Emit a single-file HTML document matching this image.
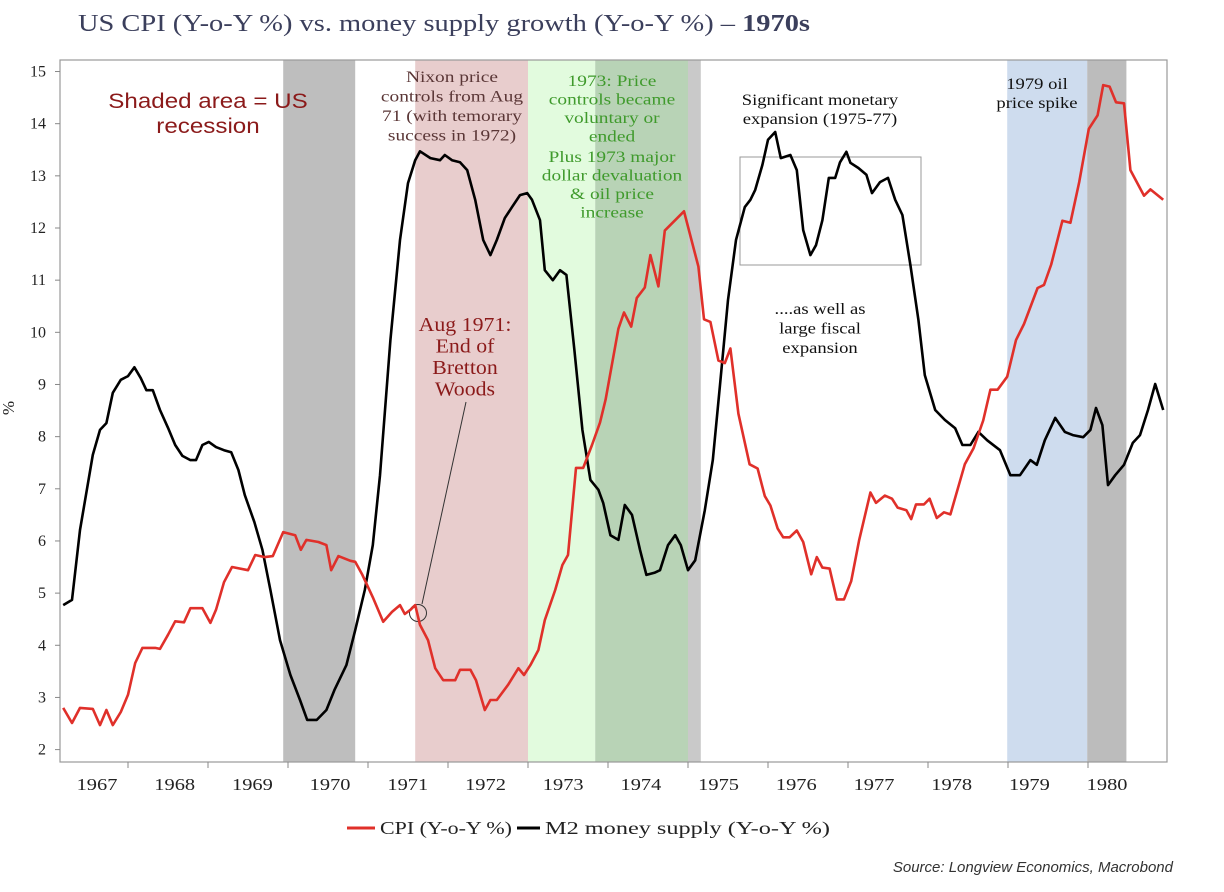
<!DOCTYPE html>
<html><head><meta charset="utf-8"><style>
html,body{margin:0;padding:0;background:#fff;}
svg{display:block;}
</style></head><body>
<svg id="chart" width="1224" height="892" viewBox="0 0 1224 892" xmlns="http://www.w3.org/2000/svg">
<text x="78" y="31" textLength="732" lengthAdjust="spacingAndGlyphs" font-family="Liberation Serif, serif" font-size="24" fill="#3b3f5c">US CPI (Y-o-Y %) vs. money supply growth (Y-o-Y %) – <tspan font-weight="bold">1970s</tspan></text>
<g id="bands"></g>
<g id="annot"></g>
<g id="series"></g>
<g id="axes"></g>
<text transform="translate(14,408) rotate(-90)" text-anchor="middle" font-family="Liberation Serif, serif" font-size="17" fill="#222">%</text>
<g>
<line x1="347" y1="828" x2="375" y2="828" stroke="#e0302a" stroke-width="3"/>
<text x="380" y="834" textLength="132" lengthAdjust="spacingAndGlyphs" font-family="Liberation Serif, serif" font-size="18" fill="#222">CPI (Y-o-Y %)</text>
<line x1="517" y1="828" x2="540" y2="828" stroke="#000" stroke-width="3"/>
<text x="545" y="834" textLength="285" lengthAdjust="spacingAndGlyphs" font-family="Liberation Serif, serif" font-size="18" fill="#222">M2 money supply (Y-o-Y %)</text>
</g>
<text x="1173" y="872" text-anchor="end" font-family="Liberation Sans, sans-serif" font-style="italic" font-size="15" fill="#333">Source: Longview Economics, Macrobond</text>
</svg>
<script>
const yTicks=[2,3,4,5,6,7,8,9,10,11,12,13,14,15];
const yearLabels=[1967,1968,1969,1970,1971,1972,1973,1974,1975,1976,1977,1978,1979,1980];
const m2Dates=[1967.19,1967.30,1967.40,1967.56,1967.65,1967.73,1967.81,1967.91,1968.00,1968.08,1968.16,1968.23,1968.31,1968.40,1968.50,1968.59,1968.68,1968.78,1968.85,1968.93,1969.01,1969.10,1969.20,1969.29,1969.38,1969.46,1969.58,1969.68,1969.78,1969.90,1970.03,1970.15,1970.24,1970.36,1970.48,1970.58,1970.73,1970.84,1970.96,1971.06,1971.15,1971.28,1971.40,1971.50,1971.59,1971.65,1971.78,1971.90,1971.96,1972.05,1972.15,1972.24,1972.34,1972.44,1972.53,1972.61,1972.71,1972.80,1972.90,1972.99,1973.05,1973.15,1973.21,1973.31,1973.40,1973.48,1973.58,1973.68,1973.78,1973.88,1973.94,1974.03,1974.13,1974.21,1974.30,1974.40,1974.48,1974.58,1974.65,1974.75,1974.84,1974.91,1975.00,1975.09,1975.21,1975.31,1975.40,1975.50,1975.60,1975.71,1975.78,1975.84,1975.93,1976.00,1976.09,1976.16,1976.28,1976.36,1976.44,1976.53,1976.60,1976.68,1976.76,1976.84,1976.90,1976.98,1977.03,1977.13,1977.23,1977.30,1977.40,1977.50,1977.59,1977.68,1977.78,1977.88,1977.96,1978.09,1978.21,1978.34,1978.43,1978.53,1978.63,1978.74,1978.90,1979.03,1979.15,1979.28,1979.36,1979.46,1979.59,1979.71,1979.81,1979.94,1980.03,1980.10,1980.18,1980.25,1980.34,1980.45,1980.56,1980.65,1980.75,1980.84,1980.94];
const m2Values=[4.77,4.87,6.21,7.65,8.13,8.26,8.84,9.09,9.16,9.33,9.12,8.89,8.89,8.51,8.17,7.84,7.63,7.55,7.55,7.84,7.90,7.80,7.74,7.70,7.36,6.88,6.36,5.83,5.06,4.10,3.43,2.95,2.57,2.57,2.76,3.14,3.62,4.29,5.06,5.92,7.26,9.85,11.77,12.86,13.30,13.47,13.34,13.30,13.40,13.30,13.26,13.11,12.54,11.77,11.48,11.77,12.19,12.40,12.63,12.67,12.54,12.15,11.19,11.00,11.19,11.10,9.66,8.13,7.17,6.98,6.73,6.11,6.02,6.69,6.50,5.83,5.35,5.39,5.44,5.92,6.11,5.92,5.44,5.63,6.59,7.55,8.99,10.62,11.77,12.40,12.54,12.73,13.21,13.69,13.84,13.34,13.40,13.11,11.96,11.48,11.67,12.15,12.96,12.96,13.26,13.46,13.25,13.15,13.02,12.67,12.88,12.96,12.54,12.25,11.29,10.24,9.18,8.51,8.32,8.16,7.84,7.84,8.09,7.93,7.74,7.26,7.26,7.55,7.46,7.93,8.36,8.09,8.03,7.99,8.13,8.55,8.22,7.07,7.26,7.46,7.88,8.03,8.51,9.01,8.51];
const cpiDates=[1967.19,1967.30,1967.40,1967.56,1967.65,1967.73,1967.81,1967.91,1968.00,1968.09,1968.18,1968.34,1968.40,1968.50,1968.59,1968.70,1968.78,1968.93,1969.03,1969.10,1969.20,1969.30,1969.50,1969.59,1969.71,1969.81,1969.94,1970.09,1970.16,1970.23,1970.38,1970.48,1970.54,1970.63,1970.78,1970.84,1970.93,1971.06,1971.19,1971.30,1971.40,1971.46,1971.53,1971.59,1971.65,1971.75,1971.84,1971.94,1972.09,1972.15,1972.28,1972.35,1972.46,1972.53,1972.61,1972.75,1972.88,1972.95,1973.03,1973.13,1973.21,1973.34,1973.43,1973.50,1973.60,1973.69,1973.80,1973.90,1973.97,1974.13,1974.20,1974.29,1974.36,1974.46,1974.53,1974.63,1974.71,1974.95,1975.13,1975.20,1975.28,1975.38,1975.46,1975.53,1975.63,1975.77,1975.87,1975.96,1976.03,1976.12,1976.19,1976.27,1976.36,1976.44,1976.54,1976.61,1976.68,1976.77,1976.86,1976.95,1977.04,1977.14,1977.28,1977.35,1977.46,1977.55,1977.62,1977.73,1977.79,1977.85,1977.95,1978.02,1978.11,1978.20,1978.28,1978.46,1978.57,1978.69,1978.78,1978.87,1978.99,1979.10,1979.20,1979.37,1979.45,1979.54,1979.68,1979.78,1979.89,1980.01,1980.12,1980.19,1980.27,1980.35,1980.45,1980.53,1980.70,1980.78,1980.94];
const cpiValues=[2.80,2.51,2.80,2.78,2.47,2.76,2.47,2.72,3.05,3.66,3.95,3.95,3.93,4.20,4.46,4.44,4.71,4.71,4.43,4.68,5.21,5.50,5.44,5.73,5.69,5.71,6.17,6.11,5.83,6.02,5.98,5.92,5.44,5.71,5.62,5.60,5.35,4.92,4.45,4.64,4.77,4.60,4.68,4.77,4.39,4.10,3.56,3.33,3.33,3.53,3.53,3.33,2.76,2.95,2.95,3.24,3.56,3.43,3.62,3.91,4.48,5.06,5.54,5.73,7.40,7.40,7.84,8.27,8.71,10.07,10.38,10.11,10.66,10.86,11.48,10.88,11.95,12.32,11.26,10.25,10.20,9.46,9.41,9.69,8.44,7.47,7.39,6.86,6.68,6.24,6.07,6.07,6.20,5.98,5.36,5.69,5.49,5.47,4.88,4.88,5.23,6.02,6.93,6.73,6.87,6.81,6.64,6.59,6.42,6.70,6.70,6.81,6.44,6.55,6.51,7.47,7.78,8.31,8.90,8.90,9.15,9.85,10.16,10.85,10.91,11.30,12.14,12.10,12.88,13.90,14.16,14.74,14.71,14.41,14.39,13.11,12.62,12.74,12.54];
const bandStarts=[1969.94,1971.59,1973.00,1973.84,1975.00,1978.99,1979.99];
const bandEnds=[1970.84,1973.00,1973.84,1975.00,1975.16,1979.99,1980.48];
const bandNames=['recession-1970','nixon-controls-band','price-controls-band','recession-1974','recession-1975-tail','oil-spike-band','recession-1980'];
const bandColors=['#bebebe','#e8cdcd','#e2fbde','#b8d3b6','#c9c9c9','#cedcee','#bcbcbc'];

const NS='http://www.w3.org/2000/svg';
const L=60,T=60,R=1167,B=762;
const xS=t=>128+(t-1968)*80;
const yS=v=>749.6-(v-2)*52.16;
function mk(tag,attrs,parent){const e=document.createElementNS(NS,tag);for(const k in attrs)e.setAttribute(k,attrs[k]);parent.appendChild(e);return e;}
function stretch(el,f){const w=el.getComputedTextLength();el.setAttribute('textLength',(w*f).toFixed(1));el.setAttribute('lengthAdjust','spacingAndGlyphs');}

const bands=document.getElementById('bands');
bandStarts.forEach((s,i)=>{
  const r=mk('rect',{x:xS(s),y:T,width:xS(bandEnds[i])-xS(s),height:B-T,fill:bandColors[i]},bands);
  
  
});

const ser=document.getElementById('series');
function line(dates,vals,color,name){
  const d=dates.map((t,i)=>(i?'L':'M')+xS(t).toFixed(1)+' '+yS(vals[i]).toFixed(1)).join(' ');
  const p=mk('path',{d:d,fill:'none',stroke:color,'stroke-width':2.6,'stroke-linejoin':'round'},ser);
  
  
}
line(m2Dates,m2Values,'#000','m2-line');
line(cpiDates,cpiValues,'#e0302a','cpi-line');

const ax=document.getElementById('axes');
const frame=mk('rect',{x:L,y:T,width:R-L,height:B-T,fill:'none',stroke:'#999','stroke-width':1.2},ax);


yTicks.forEach(v=>{
  mk('line',{x1:L-5,y1:yS(v),x2:L,y2:yS(v),stroke:'#888'},ax);
  const t=mk('text',{x:46,y:yS(v)+5,'text-anchor':'end','font-family':'Liberation Serif, serif','font-size':16,fill:'#222'},ax);
  t.textContent=v;
  
  
});
yearLabels.forEach((y,i)=>{
  if(y>1967){mk('line',{x1:xS(y),y1:B,x2:xS(y),y2:B+6,stroke:'#888'},ax);}
  const t=mk('text',{x:97+i*77.7,y:790,'text-anchor':'middle','font-family':'Liberation Serif, serif','font-size':17,fill:'#222'},ax);
  t.textContent=y;
  
  
  stretch(t,1.2);
});

const an=document.getElementById('annot');
function txt(lines,cx,y0,dy,size,color,family,name,f){
  const t=mk('text',{'text-anchor':'middle','font-family':family,'font-size':size,fill:color},an);
  lines.forEach((s,i)=>{const ts=mk('tspan',{x:cx,y:y0+i*dy},t);ts.textContent=s;stretch(ts,f);});
  
  
}
const serif='Liberation Serif, serif';
txt(['Shaded area = US','recession'],208,108,25,21,'#8b1a1a','Liberation Sans, sans-serif','recession-note',1.15);
txt(['Nixon price','controls from Aug','71 (with temorary','success in 1972)'],452,82,19.5,15.5,'#5a3636',serif,'nixon-note',1.25);
txt(['1973: Price','controls became','voluntary or','ended'],612,86,18.5,15.5,'#3f9a2c',serif,'controls-note',1.25);
txt(['Plus 1973 major','dollar devaluation','& oil price','increase'],612,162,18.5,15.5,'#3f9a2c',serif,'devaluation-note',1.25);
txt(['Aug 1971:','End of','Bretton','Woods'],465,331,21.5,19.5,'#8b1a1a',serif,'bretton-woods-note',1.12);
txt(['Significant monetary','expansion (1975-77)'],820,105,19,15.5,'#111',serif,'monetary-note',1.2);
txt(['....as well as','large fiscal','expansion'],820,314,19.5,15.5,'#111',serif,'fiscal-note',1.2);
txt(['1979 oil','price spike'],1037,89,19,15.5,'#111',serif,'oil-note',1.2);
const box=mk('rect',{x:740,y:157,width:181,height:108,fill:'none',stroke:'#999','stroke-width':1},an);


const ld=mk('line',{x1:466,y1:402,x2:422,y2:604,stroke:'#333','stroke-width':1},an);


const c=mk('circle',{cx:418,cy:613,r:8.5,fill:'none',stroke:'#333','stroke-width':1},an);


</script>
</body></html>
